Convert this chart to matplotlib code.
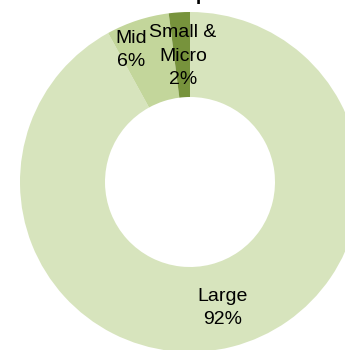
import numpy as np
import matplotlib
matplotlib.use("Agg")
import matplotlib.pyplot as plt

plt.rcParams['font.family'] = ['Liberation Sans', 'DejaVu Sans']

categories = ["Large", "Mid", "Small &\nMicro"]
shares = [92, 6, 2]
colors = ["#D7E4BD", "#C3D69B", "#77933C"]
title = "Market Capitalization"

W, H = 345, 350
fig = plt.figure(figsize=(W / 100, H / 100), dpi=100)
ax = fig.add_axes([0, 0, 1, 1])

# donut centre and outer radius in pixels
cx, cy, R = 190, 182, 170

wedges, _ = ax.pie(shares, colors=colors, startangle=90, counterclock=False,
                   radius=1.0, wedgeprops=dict(width=0.5, linewidth=0))

# label placement: (radial distance, angular nudge in degrees)
label_pos = [(0.766, 0.3), (0.85, 6.0), (0.742, -0.4)]
for w, cat, val, (r, dth) in zip(wedges, categories, shares, label_pos):
    mid = np.deg2rad((w.theta1 + w.theta2) / 2 + dth)
    ax.text(r * np.cos(mid), r * np.sin(mid), f"{cat}\n{val}%",
            ha='center', va='center', fontsize=14, color='black',
            linespacing=1.5)

ax.set_xlim(-cx / R, (W - cx) / R)
ax.set_ylim(-(H - cy) / R, cy / R)
ax.set_aspect('auto')
ax.axis('off')

fig.text(200 / W, 1 - 0.5 / H, title, ha='center', va='baseline',
         fontsize=14, fontweight='bold', color='black')

fig.savefig("out.png", dpi=100, facecolor='white')
